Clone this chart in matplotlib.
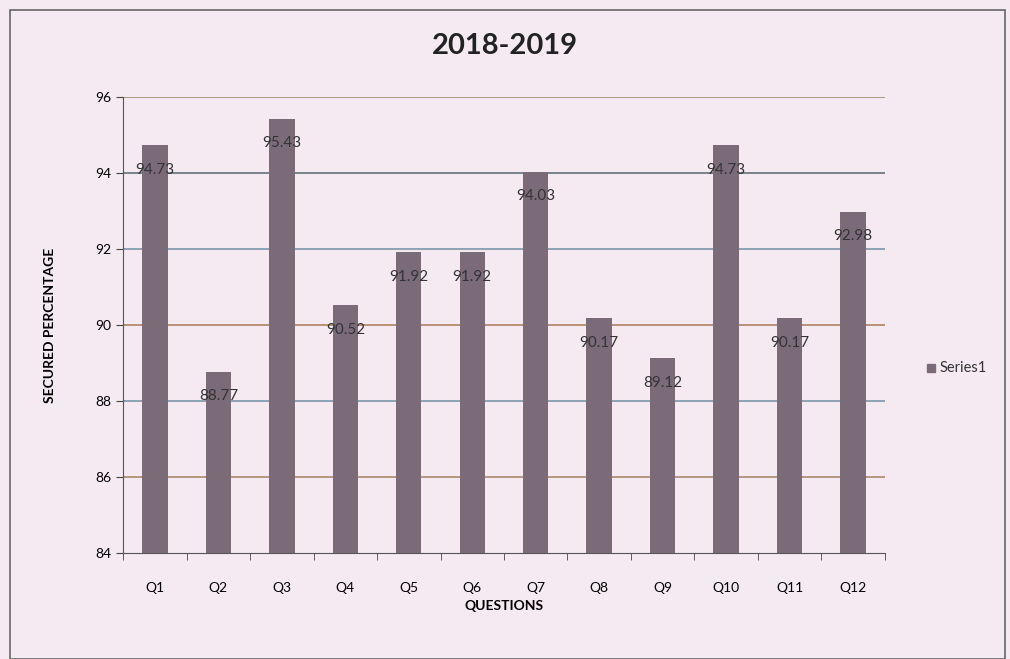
import numpy as np
from matplotlib import pyplot as plt
from matplotlib.patches import Rectangle

plt.rcParams['font.family'] = ['Lato', 'DejaVu Sans']

questions = ['Q1', 'Q2', 'Q3', 'Q4', 'Q5', 'Q6', 'Q7', 'Q8', 'Q9', 'Q10', 'Q11', 'Q12']
percent = [94.73, 88.77, 95.43, 90.52, 91.92, 91.92, 94.03, 90.17, 89.12, 94.73, 90.17, 92.98]
yticks = [84, 86, 88, 90, 92, 94, 96]

bg = '#f6eaf2'
bar_color = '#7b6b79'

fig = plt.figure(figsize=(10.1, 6.59), dpi=100, facecolor=bg)
ax = fig.add_axes([0.122, 0.161, 0.754, 0.692], facecolor=bg)

x = np.arange(len(questions))
ax.bar(x, percent, width=0.4, color=bar_color, zorder=3)

# gridlines (scan shows them as alternating blue/brown)
grid_cols = ['#a08060', '#6f8ea0', '#a87a55', '#6f8ea0', '#5a6670', '#9a8060']
for v, c in zip(yticks[1:], grid_cols):
    ax.axhline(v, color=c, linewidth=1.1, zorder=1)

for xi, v in zip(x, percent):
    ax.text(xi, v - 0.65, f'{v:.2f}', ha='center', va='center',
            fontsize=11, color='#333333', zorder=4)

ax.set_ylim(84, 96)
ax.set_xlim(-0.5, len(questions) - 0.5)
ax.set_yticks(yticks)
ax.set_xticks(x)
ax.set_xticklabels(questions)
ax.set_xticks(np.arange(-0.5, len(questions)), minor=True)
ax.tick_params(axis='x', which='major', length=0, pad=21, labelsize=10)
ax.tick_params(axis='x', which='minor', length=5, color='#444444')
ax.tick_params(axis='y', length=5, labelsize=10, color='#444444')

for s in ['top', 'right']:
    ax.spines[s].set_visible(False)
ax.spines['left'].set_color('#555555')
ax.spines['bottom'].set_color('#555555')

ax.set_xlabel('QUESTIONS', fontsize=10, fontweight='bold', labelpad=4)
ax.set_ylabel('SECURED PERCENTAGE', fontsize=10, fontweight='bold', labelpad=28)
fig.text(0.5, 0.93, '2018-2019', ha='center', va='center', fontsize=21,
         fontweight='bold', color='#222222')

# legend
fig.patches.append(Rectangle((0.918, 0.436), 0.008, 0.012, transform=fig.transFigure,
                             color=bar_color))
fig.text(0.93, 0.442, 'Series1', ha='left', va='center', fontsize=10.5, color='#333333')

# chart border
fig.patches.append(Rectangle((0.01, 0.0), 0.985, 0.985, transform=fig.transFigure,
                             fill=False, edgecolor='#666666', linewidth=1.2))

fig.savefig('out.png', dpi=100, facecolor=bg)
